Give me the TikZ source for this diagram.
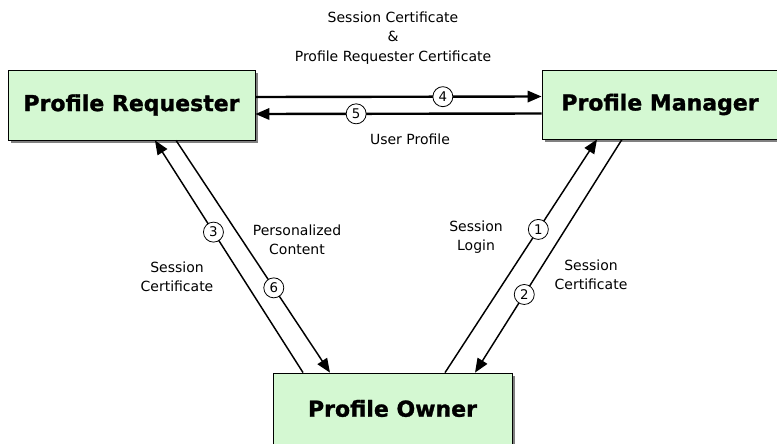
\documentclass[tikz,border=0pt]{standalone}
\usepackage{fontspec}
\setmainfont{DejaVu Sans}
\newfontfamily\heavyfont{DejaVu Sans Bold}[FakeBold=1.2]
\usetikzlibrary{arrows.meta,shadows}
\definecolor{boxgreen}{RGB}{212,248,210}
\tikzset{
  entity/.style={draw, line width=0.6pt, fill=boxgreen,
    font=\fontsize{16.5}{20}\selectfont\heavyfont,
    drop shadow={shadow xshift=2.25pt, shadow yshift=-2.25pt, fill=black!50, opacity=1}},
  msg/.style={font=\fontsize{10.5}{14.6}\selectfont, align=center},
  numcircle/.style={circle, draw, fill=white, line width=0.6pt, inner sep=0pt,
    minimum size=15pt, font=\fontsize{10}{10}\selectfont},
  flat/.style={line width=1.8pt},
  slant/.style={line width=1.1pt}
}
\begin{document}
\begin{tikzpicture}[x=0.75pt, y=-0.75pt, >={Triangle[length=10.5pt,width=8.5pt]}]
        \useasboundingbox (0,0) rectangle (777,443);

        \node[entity, minimum width=247*0.75pt, minimum height=70*0.75pt] (req) at (131.5,105) {Profile Requester};
        \node[entity, minimum width=236*0.75pt, minimum height=69*0.75pt] (mgr) at (660,104.5) {Profile Manager};
        \node[entity, minimum width=239*0.75pt, minimum height=71*0.75pt] (own) at (392.5,408.5) {Profile Owner};

        \node[msg] (cert) at (393,38) {Session Certificate\\\&\\Profile Requester Certificate};
        \node[msg] (prof) at (410,139) {User Profile};
        \node[msg] (pers) at (297,240) {Personalized\\Content};
        \node[msg] (certl) at (177,277) {Session\\Certificate};
        \node[msg] (login) at (476,237) {Session\\Login};
        \node[msg] (certr) at (591,275) {Session\\Certificate};

        \draw[->, flat] ([yshift=6pt]req.east) -- node[numcircle, pos=0.655] {4} ([yshift=6pt]mgr.west);
        \draw[->, flat] ([yshift=-6.75pt]mgr.west) -- node[numcircle, pos=0.648] {5} ([yshift=-6.75pt]req.east);
        \draw[->, slant] ([xshift=39.4pt]own.north) -- node[numcircle, pos=0.614] {1} ([xshift=-47.25pt]mgr.south);
        \draw[->, slant] ([xshift=-28.5pt]mgr.south) -- node[numcircle, pos=0.665] {2} ([xshift=61.9pt]own.north);
        \draw[->, slant] ([xshift=-67.1pt]own.north) -- node[numcircle, pos=0.605] {3} ([xshift=17.6pt]req.south);
        \draw[->, slant] ([xshift=33.4pt]req.south) -- node[numcircle, pos=0.635] {6} ([xshift=-46.9pt]own.north);
\end{tikzpicture}
\end{document}
